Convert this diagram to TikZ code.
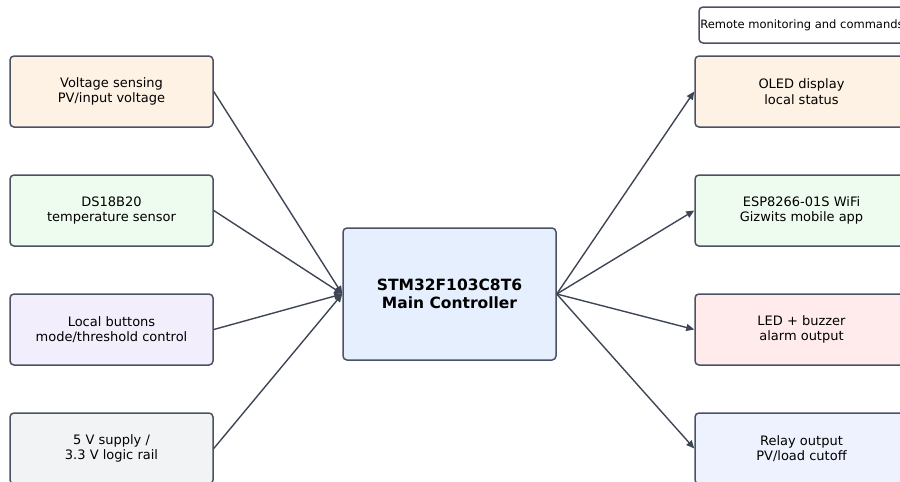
\documentclass[tikz,border=0pt]{standalone}
\usepackage{fontspec}
\setmainfont{DejaVu Sans}
\usepackage{xcolor}
\usetikzlibrary{positioning,arrows.meta}

\definecolor{edgegray}{HTML}{4A5263}
\definecolor{linkgray}{HTML}{3E4656}
\definecolor{fillorange}{HTML}{FEF2E4}
\definecolor{fillgreen}{HTML}{EEFBEF}
\definecolor{fillpurple}{HTML}{F3EEFC}
\definecolor{fillgray}{HTML}{F2F3F5}
\definecolor{fillblue}{HTML}{E6EFFD}
\definecolor{fillred}{HTML}{FFEBEB}
\definecolor{fillindigo}{HTML}{EEF1FE}

\begin{document}
\begin{tikzpicture}[x=1pt,y=-1pt,
	box/.style={draw=edgegray, line width=1.5pt, rounded corners=4pt, minimum width=203pt, minimum height=71pt, align=center, inner sep=2pt, font=\fontsize{13}{15.5}\selectfont},
	link/.style={draw=linkgray, line width=1.4pt, -{Triangle[length=8pt,width=7pt]}}]
	\useasboundingbox (0,0) rectangle (900,482);
	\clip (0,0) rectangle (900,482);
	
	% eingaenge links
	\node[box, fill=fillorange] (vsense) at (111.5,91.5)  {Voltage sensing\\PV/input voltage};
	\node[box, fill=fillgreen]  (temp)   at (111.5,210.5) {DS18B20\\temperature sensor};
	\node[box, fill=fillpurple] (keys)   at (111.5,329.5) {Local buttons\\mode/threshold control};
	\node[box, fill=fillgray]   (power)  at (111.5,448.5) {5 V supply /\\3.3 V logic rail};
	
	% mikrocontroller
	\node[box, fill=fillblue, minimum width=213pt, minimum height=132pt, font=\fontsize{15.5}{18}\selectfont\bfseries] (mcu) at (449.5,294) {STM32F103C8T6\\Main Controller};
	
	% ausgaenge rechts
	\node[box, fill=fillorange, minimum width=213pt] (oled)  at (801.5,91.5)  {OLED display\\local status};
	\node[box, fill=fillgreen,  minimum width=213pt] (wifi)  at (801.5,210.5) {ESP8266-01S WiFi\\Gizwits mobile app};
	\node[box, fill=fillred,    minimum width=213pt] (alarm) at (801.5,329.5) {LED + buzzer\\alarm output};
	\node[box, fill=fillindigo, minimum width=213pt] (relay) at (801.5,448.5) {Relay output\\PV/load cutoff};
	
	% fernzugriff
	\node[box, fill=white, minimum width=206pt, minimum height=36pt, inner sep=1pt, font=\fontsize{11.5}{14}\selectfont] (remote) at (802,25) {Remote monitoring and commands};
	
	% verbindungen
	\foreach \src in {vsense,temp,keys,power} {
		\draw[link] (\src.east) -- (mcu.west);
	}
	\foreach \dst in {oled,wifi,alarm,relay} {
		\draw[link] (mcu.east) -- (\dst.west);
	}
\end{tikzpicture}
\end{document}
